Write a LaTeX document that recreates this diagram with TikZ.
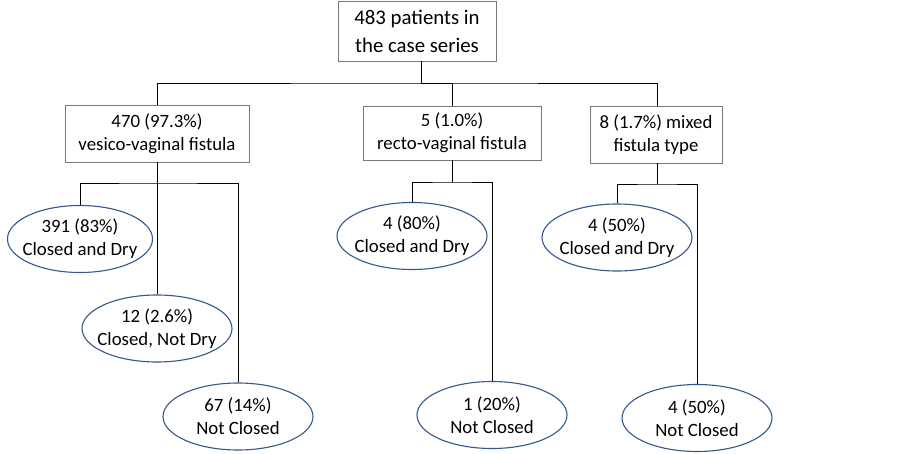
\documentclass[tikz,border=0pt]{standalone}
\usepackage{fontspec}
\setmainfont{Carlito}
\usetikzlibrary{shapes.geometric}
\definecolor{ovalblue}{RGB}{52,88,135}
\definecolor{boxgray}{RGB}{120,120,120}
\begin{document}
\begin{tikzpicture}[x=1pt,y=-1pt,line width=.8pt,
  box/.style={draw=boxgray,align=center,inner sep=0pt,font=\fontsize{18.8}{23}\selectfont},
  oval/.style={ellipse,draw=ovalblue,line width=1.1pt,minimum width=150,minimum height=67,inner xsep=-15pt,inner ysep=0pt,align=center,font=\fontsize{18.8}{23}\selectfont}]
\useasboundingbox (0,0) rectangle (903,453);
\node at (417,31) [box,minimum width=158,minimum height=60,font=\fontsize{20.8}{28}\selectfont] (root) {483 patients in\\the case series};
\node at (157,133.5) [box,minimum width=184,minimum height=57] (vv) {470 (97.3\%)\\vesico-vaginal fistula};
\node at (452,133) [box,minimum width=178,minimum height=54] (rv) {5 (1.0\%)\\recto-vaginal fistula};
\node at (656,134.5) [box,minimum width=132,minimum height=57] (mx) {8 (1.7\%) mixed\\fistula type};
% outcomes
\node at (80,239) [oval,minimum width=145] (v1) {391 (83\%)\\Closed and Dry};
\node at (157,328.5) [oval] (v2) {12 (2.6\%)\\Closed, Not Dry};
\node at (238,416.5) [oval] (v3) {67 (14\%)\\Not Closed};
\node at (412,236) [oval] (r1) {4 (80\%)\\Closed and Dry};
\node at (492,415) [oval] (r2) {1 (20\%)\\Not Closed};
\node at (617,237.5) [oval] (m1) {4 (50\%)\\Closed and Dry};
\node at (697,418) [oval] (m2) {4 (50\%)\\Not Closed};
\coordinate (jr) at (421,83);
\coordinate (jv) at (157,183);
\coordinate (jrv) at (452,182);
\coordinate (jm) at (657,184);
\draw (root.south -| jr)--(jr);
\draw (vv.north) |- (jr) -| (mx.north -| jm);
\draw (jr) -| (rv.north);
\draw (vv.south)--(v2.north);
\draw (v1.north) |- (jv) -| (v3.north);
\draw (rv.south)--(jrv);
\draw (r1.north) |- (jrv) -| (r2.north);
\draw (mx.south -| jm)--(jm);
\draw (m1.north) |- (jm) -| (m2.north);
\end{tikzpicture}
\end{document}
